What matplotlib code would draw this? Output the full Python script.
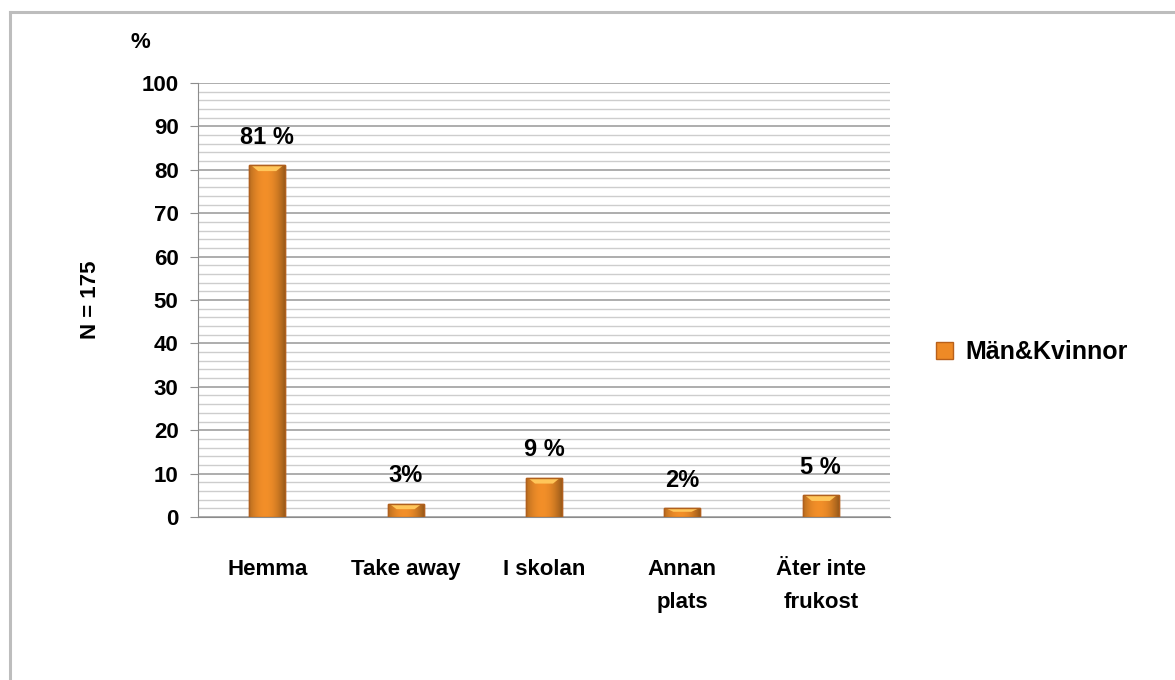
import matplotlib
matplotlib.use("Agg")
import matplotlib.pyplot as plt
import numpy as np
from matplotlib.patches import Rectangle, Polygon

categories = ["Hemma", "Take away", "I skolan", "Annan\nplats", "Äter inte\nfrukost"]
values = [81, 3, 9, 2, 5]
value_labels = ["81 %", "3%", "9 %", "2%", "5 %"]
series_name = "Män&Kvinnor"
y_ticks = [0, 10, 20, 30, 40, 50, 60, 70, 80, 90, 100]

fam = ["Liberation Sans Narrow", "Liberation Sans", "DejaVu Sans"]
plt.rcParams["font.family"] = fam
plt.rcParams["font.weight"] = "bold"
FS = 16

W, H = 1175, 680
fig = plt.figure(figsize=(W / 100, H / 100), dpi=100)
fig.patch.set_facecolor("white")

# outer border (left & top visible)
fig.add_artist(plt.Line2D([10 / W, 10 / W], [0, 1 - 12 / H], color="#bdbdbd", lw=2.2, transform=fig.transFigure))
fig.add_artist(plt.Line2D([10 / W, 1], [1 - 12 / H, 1 - 12 / H], color="#bdbdbd", lw=2.2, transform=fig.transFigure))

ax = fig.add_axes([198 / W, 1 - 517 / H, (890 - 198) / W, (517 - 83) / H])
x = np.arange(len(categories))
bars = ax.bar(x, values, width=0.26, color="#EE8A26", edgecolor="#B8601A", linewidth=1.0, zorder=3,
              label=series_name)

# gradient shading on bars
grad = np.linspace(0, 1, 64)
shade = 1 - 0.3 * (2 * np.abs(grad - 0.45)) ** 2
base = np.array([0.95, 0.56, 0.16])
img = np.clip(base[None, None, :] * shade[None, :, None], 0, 1)
img = np.repeat(img, 2, axis=0)
for b in bars:
    bx, by, bw, bh = b.get_x(), b.get_y(), b.get_width(), b.get_height()
    im = ax.imshow(img, extent=[bx, bx + bw, by, by + bh], aspect="auto", zorder=3.5, interpolation="bilinear")
    im.set_clip_path(b)
    # light top cap (chevron-like)
    cap = min(1.3, bh * 0.4)
    top = by + bh
    ax.add_patch(Polygon([(bx + bw * 0.08, top - 0.15), (bx + bw * 0.92, top - 0.15),
                          (bx + bw * 0.75, top - cap), (bx + bw * 0.25, top - cap)],
                         closed=True, facecolor="#FFC65A", edgecolor="none", zorder=3.6))
    ax.add_patch(Rectangle((bx, by), bw, bh, facecolor="none", edgecolor="#B0601E", lw=1.0, zorder=3.7))

for xi, v, lab in zip(x, values, value_labels):
    ax.annotate(lab, (xi, v), xytext=(0, 12), textcoords="offset points", ha="center", va="bottom",
                fontsize=FS + 1, fontweight="bold", color="black", family=fam)

ax.set_xlim(-0.5, len(categories) - 0.5)
ax.set_ylim(0, 100)
ax.set_yticks(y_ticks)
ax.set_yticks(np.arange(0, 101, 2), minor=True)
ax.grid(axis="y", which="major", color="#a0a0a0", lw=1.2, zorder=0)
ax.grid(axis="y", which="minor", color="#cdcdcd", lw=1.0, zorder=0)
ax.set_axisbelow(True)
ax.set_xticks(x)
ax.set_xticklabels(categories, fontsize=FS, fontweight="bold", linespacing=1.8, va="top")
ax.tick_params(axis="x", length=0, pad=30)
ax.tick_params(axis="y", which="major", length=6, color="#8c8c8c", labelsize=FS, pad=8)
ax.tick_params(axis="y", which="minor", length=0)
for lab in ax.get_yticklabels():
    lab.set_fontweight("bold")
for s in ["top", "right"]:
    ax.spines[s].set_visible(False)
ax.spines["left"].set_color("#8c8c8c")
ax.spines["bottom"].set_color("#8c8c8c")

fig.text(90 / W, 1 - 300 / H, "N = 175", rotation=90, ha="center", va="center", fontsize=FS, fontweight="bold")
fig.text(140 / W, 1 - 42 / H, "%", ha="center", va="center", fontsize=FS, fontweight="bold")

leg = fig.legend(handles=[Rectangle((0, 0), 1, 1, facecolor="#EE8A26", edgecolor="#B8601A")],
                 labels=[series_name], loc="center left", bbox_to_anchor=(913 / W, 1 - 352 / H),
                 frameon=False, fontsize=FS + 2, handlelength=0.7, handleheight=0.7, handletextpad=0.5)
for t in leg.get_texts():
    t.set_fontweight("bold")

fig.savefig("out.png", dpi=100, facecolor="white")
